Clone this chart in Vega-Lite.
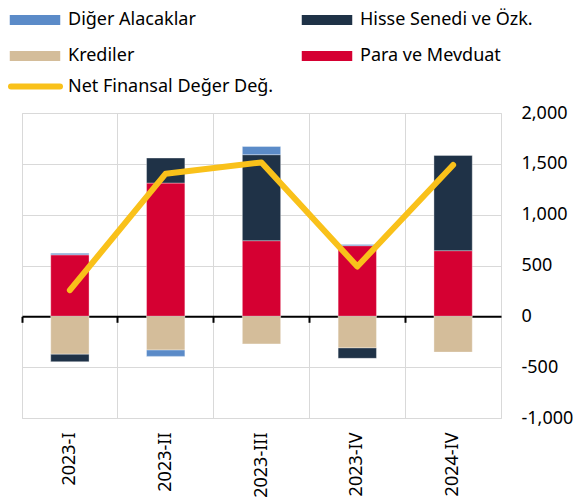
{
  "$schema": "https://vega.github.io/schema/vega-lite/v6.json",
  "autosize": {"type": "none"},
  "padding": {"left": 22, "top": 113, "right": 72, "bottom": 80},
  "width": 479,
  "height": 305,
  "config": {
    "font": "Noto Sans",
    "view": {"stroke": "#d9d9d9", "strokeWidth": 1},
    "axis": {"labelFont": "Noto Sans", "labelFontSize": 18, "labelColor": "#000000"},
    "legend": {"labelFont": "Noto Sans", "labelFontSize": 18, "labelColor": "#000000", "padding": 0}
  },
  "datasets": {
    "bars": [
      {"quarter": "2023-I", "series": "Para ve Mevduat", "value": 605},
      {"quarter": "2023-I", "series": "Diğer Alacaklar", "value": 15},
      {"quarter": "2023-I", "series": "Krediler", "value": -373},
      {"quarter": "2023-I", "series": "Hisse Senedi ve Özk.", "value": -73},
      {"quarter": "2023-II", "series": "Para ve Mevduat", "value": 1311},
      {"quarter": "2023-II", "series": "Hisse Senedi ve Özk.", "value": 246},
      {"quarter": "2023-II", "series": "Krediler", "value": -332},
      {"quarter": "2023-II", "series": "Diğer Alacaklar", "value": -62},
      {"quarter": "2023-III", "series": "Para ve Mevduat", "value": 744},
      {"quarter": "2023-III", "series": "Hisse Senedi ve Özk.", "value": 846},
      {"quarter": "2023-III", "series": "Diğer Alacaklar", "value": 81},
      {"quarter": "2023-III", "series": "Krediler", "value": -271},
      {"quarter": "2023-IV", "series": "Para ve Mevduat", "value": 695},
      {"quarter": "2023-IV", "series": "Diğer Alacaklar", "value": 12},
      {"quarter": "2023-IV", "series": "Krediler", "value": -311},
      {"quarter": "2023-IV", "series": "Hisse Senedi ve Özk.", "value": -102},
      {"quarter": "2024-IV", "series": "Para ve Mevduat", "value": 646},
      {"quarter": "2024-IV", "series": "Hisse Senedi ve Özk.", "value": 937},
      {"quarter": "2024-IV", "series": "Krediler", "value": -352}
    ],
    "net": [
      {"quarter": "2023-I", "net": 258},
      {"quarter": "2023-II", "net": 1403},
      {"quarter": "2023-III", "net": 1514},
      {"quarter": "2023-IV", "net": 490},
      {"quarter": "2024-IV", "net": 1489}
    ]
  },
  "resolve": {"axis": {"x": "independent"}},
  "layer": [
    {
      "data": {"name": "bars"},
      "transform": [
        {"calculate": "indexof(['Para ve Mevduat','Krediler','Hisse Senedi ve Özk.','Diğer Alacaklar'], datum.series)", "as": "ord"}
      ],
      "mark": {"type": "bar", "width": {"band": 0.4}, "stroke": "#ffffff", "strokeOpacity": 0.35, "strokeWidth": 1},
      "encoding": {
        "x": {
          "field": "quarter", "type": "nominal", "sort": null,
          "scale": {"paddingInner": 0, "paddingOuter": 0},
          "axis": {
            "title": null, "labelAngle": -90, "labelAlign": "right", "labelBaseline": "middle",
            "labelPadding": 14, "ticks": false, "domain": false,
            "grid": true, "gridColor": "#d9d9d9", "gridWidth": 1, "bandPosition": 0
          }
        },
        "y": {
          "field": "value", "type": "quantitative", "stack": "zero",
          "scale": {"domain": [-1000, 2000], "nice": false},
          "axis": {
            "title": null, "orient": "right", "values": [-1000, -500, 0, 500, 1000, 1500, 2000],
            "format": ",.0f", "labelExpr": "replace(datum.label, '\u2212', '-')",
            "grid": true, "gridColor": "#d9d9d9", "gridWidth": 1,
            "domain": false, "ticks": false, "labelPadding": 20
          }
        },
        "fill": {
          "field": "series", "type": "nominal",
          "scale": {
            "domain": ["Diğer Alacaklar", "Krediler", "Hisse Senedi ve Özk.", "Para ve Mevduat"],
            "range": ["#5b8bc8", "#d4bd9a", "#1f3247", "#d50032"]
          },
          "legend": {
            "title": null, "orient": "none", "legendX": -14, "legendY": -120,
            "columns": 2, "columnPadding": 102, "rowPadding": -3,
            "symbolType": "M-1,-0.22H1V0.22H-1Z", "symbolSize": 2704,
            "labelOffset": 6, "labelLimit": 300
          }
        },
        "order": {"field": "ord", "type": "quantitative"}
      }
    },
    {
      "data": {"name": "net"},
      "mark": {"type": "line", "strokeWidth": 6, "strokeCap": "round", "strokeJoin": "round"},
      "encoding": {
        "x": {
          "field": "quarter", "type": "nominal", "sort": null,
          "axis": {
            "title": null, "labels": false, "grid": false, "orient": "top", "offset": -203.3,
            "domain": true, "domainColor": "#000000", "domainWidth": 2,
            "ticks": true, "tickColor": "#000000", "tickWidth": 2, "tickSize": -6, "bandPosition": 0
          }
        },
        "y": {"field": "net", "type": "quantitative"},
        "stroke": {
          "datum": "Net Finansal Değer Değ.",
          "scale": {"range": ["#f9c11a"]},
          "legend": {
            "title": null, "orient": "none", "legendX": -14, "legendY": -54,
            "symbolType": "stroke", "symbolSize": 2401, "symbolStrokeWidth": 6,
            "labelOffset": 5, "labelLimit": 300,
            "encode": {"symbols": {"update": {"strokeCap": {"value": "round"}}}}
          }
        }
      }
    }
  ]
}
